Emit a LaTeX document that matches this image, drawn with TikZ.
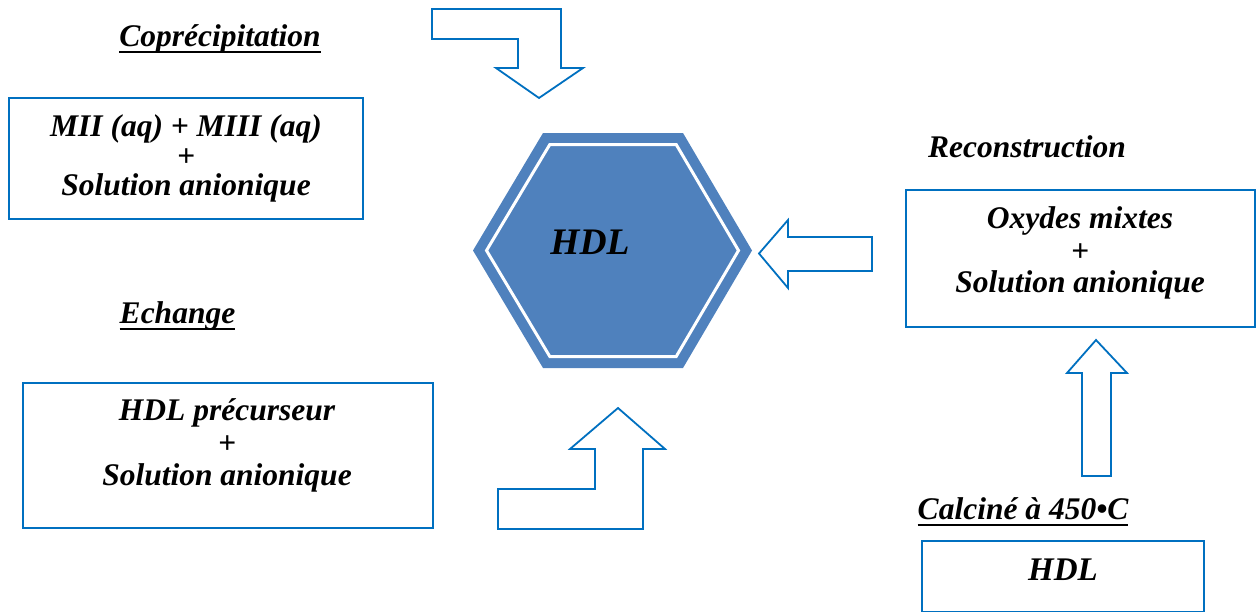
\documentclass[tikz,border=0pt]{standalone}
\usepackage{fontspec}
\setmainfont{Liberation Serif}
\definecolor{boxblue}{RGB}{0,112,192}
\definecolor{hexblue}{RGB}{79,129,189}
\tikzset{
  frame/.style={draw=boxblue, line width=1.8pt, fill=white},
  blockarrow/.style={draw=boxblue, line width=1.8pt, fill=white, line join=miter},
  txt/.style={anchor=base, inner sep=0pt, font=\fontsize{31.5}{33}\selectfont\bfseries\itshape},
  plus/.style={txt, text height=0.5em, text depth=0pt},
  ttl/.style={txt},
  ul/.style={line width=2.6pt, black}
}
\begin{document}
\begin{tikzpicture}[x=1pt,y=-1pt]
\useasboundingbox (0,0) rectangle (1260,613);

% --- central hexagon
\fill[hexblue] (473,250.5) -- (543,133) -- (683,133) -- (752,250.5) -- (683,368) -- (543,368) -- cycle;
\draw[white, line width=3pt, fill=hexblue, line join=miter]
  (486.5,250.5) -- (549.8,144.5) -- (676.2,144.5) -- (738.5,250.5) -- (676.2,356.5) -- (549.8,356.5) -- cycle;
\node[txt, font=\fontsize{37.5}{39}\selectfont\bfseries\itshape] (hdl) at (590,254) {HDL};

% --- boxes
\draw[frame] (9,98) rectangle (363,219);
\draw[frame] (23,383) rectangle (433,528);
\draw[frame] (906,190) rectangle (1255,327);
\draw[frame] (922,541) rectangle (1204,611.5);

% --- box contents
\node[txt] (b1a) at (186,136) {MII (aq) + MIII (aq)};
\node[plus] (b1b) at (186,166) {+};
\node[txt] (b1c) at (186,195) {Solution anionique};

\node[txt] (b2a) at (227,420) {HDL précurseur};
\node[plus] (b2b) at (227,453) {+};
\node[txt] (b2c) at (227,485) {Solution anionique};

\node[txt] (b3a) at (1080,228) {Oxydes mixtes};
\node[plus] (b3b) at (1080,261) {+};
\node[txt] (b3c) at (1080,292) {Solution anionique};

\node[txt, font=\fontsize{33}{35}\selectfont\bfseries\itshape] (b4) at (1063,580) {HDL};

% --- titles
\node[ttl] (t1) at (220,46) {Coprécipitation};
\draw[ul] ([yshift=-6pt]t1.base west) -- ([yshift=-6pt]t1.base east);
\node[ttl] (t2) at (177.5,323) {Echange};
\draw[ul] ([yshift=-6pt]t2.base west) -- ([yshift=-6pt]t2.base east);
\node[ttl] (t3) at (1027,157) {Reconstruction};
\node[ttl] (t4) at (1023,519) {Calciné à 450•C};
\draw[ul] ([yshift=-6pt]t4.base west) -- ([yshift=-6pt]t4.base east);

% --- block arrows
% bent arrow down into the hexagon (coprecipitation)
\draw[blockarrow] (432,9) -- (561,9) -- (561,68) -- (583,68) -- (539,98) -- (496,68) -- (518,68) -- (518,39) -- (432,39) -- cycle;
% bent arrow up into the hexagon (exchange)
\draw[blockarrow] (498,489) -- (595,489) -- (595,449) -- (570,449) -- (618,408) -- (665,449) -- (643,449) -- (643,529) -- (498,529) -- cycle;
% arrow from the mixed oxides to the hexagon (reconstruction)
\draw[blockarrow] (872,237) -- (788,237) -- (788,220) -- (759,253.5) -- (788,288) -- (788,271) -- (872,271) -- cycle;
% arrow from the calcined HDL up to the mixed oxides
\draw[blockarrow] (1082,476) -- (1082,373) -- (1067,373) -- (1096,340) -- (1127,373) -- (1111,373) -- (1111,476) -- cycle;
\end{tikzpicture}
\end{document}
